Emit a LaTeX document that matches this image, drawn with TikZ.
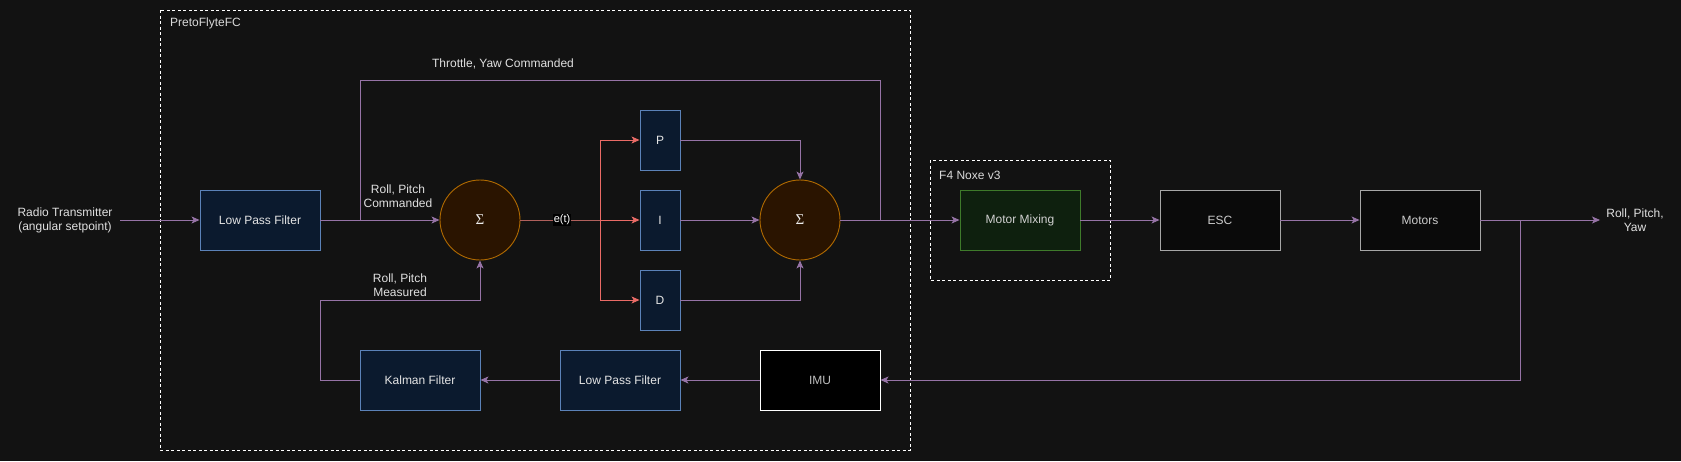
\documentclass[tikz,border=0pt]{standalone}
\usepackage{fontspec}
\setmainfont{Liberation Sans}
\newfontfamily\sigmafont{Liberation Serif}
\usetikzlibrary{arrows.meta}
\definecolor{bg}{HTML}{121212}
\definecolor{purp}{HTML}{9673A6}
\definecolor{redl}{HTML}{EA6B66}
\definecolor{redd}{HTML}{B0605C}
\definecolor{bluef}{HTML}{0B1A2E}
\definecolor{blueb}{HTML}{5B82B8}
\definecolor{orf}{HTML}{2A1400}
\definecolor{orb}{HTML}{B06A00}
\definecolor{grf}{HTML}{0E200E}
\definecolor{grb}{HTML}{3E7A2A}
\definecolor{txt}{HTML}{DCDCDC}
\tikzset{
  every node/.style={font=\fontsize{12}{14}\selectfont, text=txt},
  bluebox/.style={draw=blueb, fill=bluef, line width=0.9pt, minimum width=120pt, minimum height=60pt, inner sep=0pt, text=white!90!black},
  pidbox/.style={bluebox, minimum width=40pt},
  sumnode/.style={circle, draw=orb, fill=orf, line width=0.9pt, minimum size=80pt, inner sep=0pt, text=white!92!black, font=\sigmafont\fontsize{15}{17}\selectfont},
  greybox/.style={draw=black!35!white, fill=black!96!white, line width=0.9pt, minimum width=120pt, minimum height=60pt, inner sep=0pt, text=black!20!white},
  imubox/.style={draw=white, fill=black, line width=1pt, minimum width=120pt, minimum height=60pt, inner sep=0pt, text=black!25!white},
  greenbox/.style={draw=grb, fill=grf, line width=0.9pt, minimum width=120pt, minimum height=60pt, inner sep=0pt, text=black!18!white},
  frame/.style={draw=white, line width=0.9pt, dash pattern=on 3pt off 2.5pt},
  conn/.style={draw=purp, line width=0.9pt},
  aconn/.style={conn, -{Stealth[length=8pt,width=7pt,inset=2pt]}},
  rconn/.style={draw=redl, line width=0.9pt, -{Stealth[length=8pt,width=7pt,inset=2pt]}},
  lbl/.style={align=center, inner sep=0pt, text=black!12!white},
}
\begin{document}
\begin{tikzpicture}[x=1pt,y=-1pt]
\fill[bg] (0,0) rectangle (1681,461);
\useasboundingbox (0,0) rectangle (1681,461);

% frames
\draw[frame] (160,10) rectangle (910,450);
\node[anchor=west, inner sep=0pt, text=black!15!white] (fclbl) at (170,23.5) {PretoFlyteFC};
\draw[frame] (930,160) rectangle (1110,280);
\node[anchor=west, inner sep=0pt, text=black!15!white] (f4lbl) at (939,175) {F4 Noxe v3};

% nodes
\node[lbl] (rt) at (65,220) {Radio Transmitter\\(angular setpoint)};
\coordinate (rtout) at (120,220);
\node[bluebox] (lpf1) at (260,220) {Low Pass Filter};
\node[sumnode] (sum1) at (480,220) {Σ};
\node[pidbox] (P) at (660,140) {P};
\node[pidbox] (I) at (660,220) {I};
\node[pidbox] (D) at (660,300) {D};
\node[sumnode] (sum2) at (800,220) {Σ};
\node[greenbox] (mm) at (1020,220) {Motor Mixing};
\node[greybox] (esc) at (1220,220) {ESC};
\node[greybox] (mot) at (1420,220) {Motors};
\node[lbl] (out) at (1635,220) {Roll, Pitch,\\Yaw};
\coordinate (outend) at (1600,220);
\node[imubox] (imu) at (820,380) {IMU};
\node[bluebox] (lpf2) at (620,380) {Low Pass Filter};
\node[bluebox] (kal) at (420,380) {Kalman Filter};

\coordinate (j1) at (360,220);
\coordinate (j2) at (880,220);
\coordinate (br) at (600,220);
\coordinate (j3) at (1520,220);

% forward path
\draw[aconn] (rtout) -- (lpf1.west);
\draw[aconn] (lpf1.east) -- (sum1.west);
\node[lbl] (rpc) at (398,196) {Roll, Pitch\\Commanded};
\draw[conn] (j1) -- (360,80) -- (880,80) -- (j2);
\node[lbl] (thr) at (503,64) {Throttle, Yaw Commanded};

\draw[draw=redd, line width=0.9pt] (sum1.east) -- (br);
\node[fill=black, inner sep=0.8pt, text=white, font=\fontsize{11}{13}\selectfont] (et) at (562,220) {e(t)};
\draw[rconn] (br) -- (I.west);
\draw[rconn] (br) |- (P.west);
\draw[rconn] (br) |- (D.west);

\draw[aconn] (P.east) -| (sum2.north);
\draw[aconn] (I.east) -- (sum2.west);
\draw[aconn] (D.east) -| (sum2.south);

\draw[aconn] (sum2.east) -- (mm.west);
\draw[aconn] (mm.east) -- (esc.west);
\draw[aconn] (esc.east) -- (mot.west);
\draw[aconn] (mot.east) -- (outend);

% feedback path
\draw[aconn] (j3) |- (imu.east);
\draw[aconn] (imu.west) -- (lpf2.east);
\draw[aconn] (lpf2.west) -- (kal.east);
\draw[aconn] (kal.west) -- (320,380) -- (320,300) -| (sum1.south);
\node[lbl] (rpm) at (400,285) {Roll, Pitch\\Measured};
\end{tikzpicture}
\end{document}
